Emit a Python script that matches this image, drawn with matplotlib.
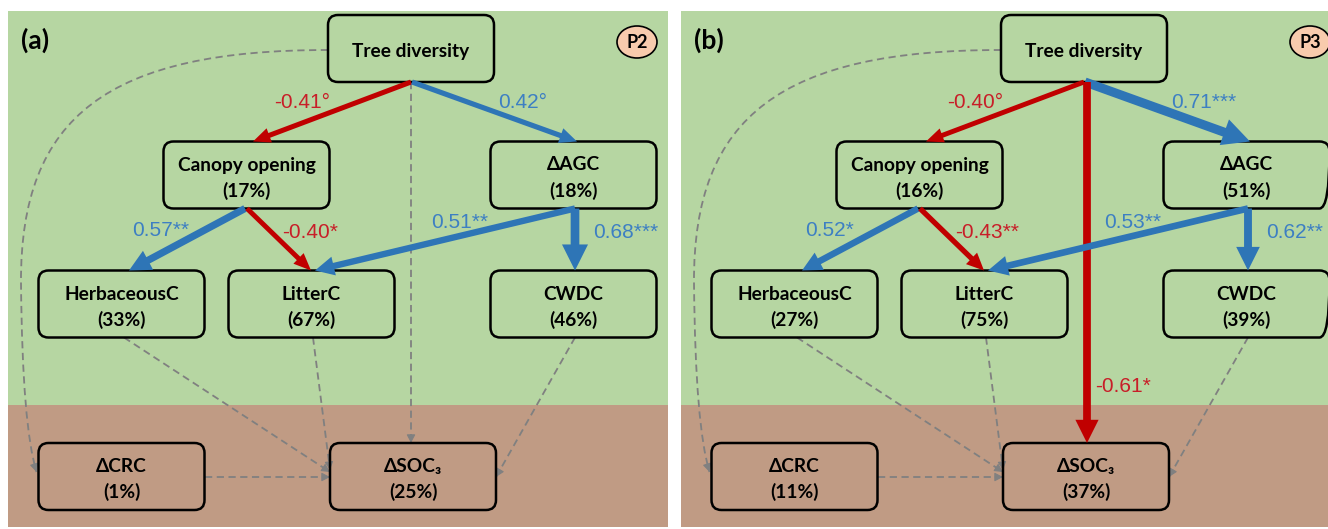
import numpy as np
import matplotlib.pyplot as plt
from matplotlib.patches import FancyBboxPatch, FancyArrowPatch, Rectangle, Ellipse, PathPatch
from matplotlib.path import Path

# ---- values ----
panel_tags = ["(a)", "(b)"]
period_codes = ["P2", "P3"]

nodes = ["Tree diversity", "Canopy opening", "ΔAGC", "HerbaceousC",
         "LitterC", "CWDC", "ΔCRC", "ΔSOC₃"]
# explained variance (%) per node, None = exogenous
r2_p2 = [None, 17, 18, 33, 67, 46, 1, 25]
r2_p3 = [None, 16, 51, 27, 75, 39, 11, 37]

# significant paths: source, target, standardised coefficient, significance mark
paths_p2 = [
    ("Tree diversity", "Canopy opening", -0.41, "°"),
    ("Tree diversity", "ΔAGC", 0.42, "°"),
    ("Canopy opening", "HerbaceousC", 0.57, "**"),
    ("Canopy opening", "LitterC", -0.40, "*"),
    ("ΔAGC", "LitterC", 0.51, "**"),
    ("ΔAGC", "CWDC", 0.68, "***"),
]
paths_p3 = [
    ("Tree diversity", "Canopy opening", -0.40, "°"),
    ("Tree diversity", "ΔAGC", 0.71, "***"),
    ("Tree diversity", "ΔSOC₃", -0.61, "*"),
    ("Canopy opening", "HerbaceousC", 0.52, "*"),
    ("Canopy opening", "LitterC", -0.43, "**"),
    ("ΔAGC", "LitterC", 0.53, "**"),
    ("ΔAGC", "CWDC", 0.62, "**"),
]
# non-significant paths (dashed grey)
ns_p2 = [("Tree diversity", "ΔCRC"), ("Tree diversity", "ΔSOC₃"),
         ("HerbaceousC", "ΔSOC₃"), ("LitterC", "ΔSOC₃"),
         ("CWDC", "ΔSOC₃"), ("ΔCRC", "ΔSOC₃")]
ns_p3 = [("Tree diversity", "ΔCRC"), ("HerbaceousC", "ΔSOC₃"),
         ("LitterC", "ΔSOC₃"), ("CWDC", "ΔSOC₃"), ("ΔCRC", "ΔSOC₃")]

# ---- layout (pixels, panel (a) frame) ----
NODE_XY = {
    "Tree diversity": (411, 48.5),
    "Canopy opening": (246.5, 175),
    "ΔAGC": (573.5, 175),
    "HerbaceousC": (121.5, 304),
    "LitterC": (311.5, 304),
    "CWDC": (573.5, 304),
    "ΔCRC": (121.5, 476.5),
    "ΔSOC₃": (413, 476.5),
}
W, H = 166, 67
W2, H2 = W / 2, H / 2
PANEL_SHIFT = 673
PANEL_LEFT, PANEL_W = 8, 660
PANEL_TOP, SOIL_Y, PANEL_BOTTOM = 11, 405, 527

# anchor offsets from node centres: (start offset, end offset)
SOLID_ANCHOR = {
    ("Tree diversity", "Canopy opening"): ((0, H2), (6.5, -H2)),
    ("Tree diversity", "ΔAGC"): ((1, H2), (3.5, -H2)),
    ("Tree diversity", "ΔSOC₃"): ((3, H2), (1, -H2)),
    ("Canopy opening", "HerbaceousC"): ((-1.5, H2), (7.5, -H2)),
    ("Canopy opening", "LitterC"): ((0.5, H2), (-0.5, -H2)),
    ("ΔAGC", "LitterC"): ((1.5, H2), (3.5, -H2)),
    ("ΔAGC", "CWDC"): ((1.5, H2), (1.5, -H2)),
}
LABEL_POS = {  # left edge, vertical centre
    ("Tree diversity", "Canopy opening"): (274, 102),
    ("Tree diversity", "ΔAGC"): (498, 102),
    ("Tree diversity", "ΔSOC₃"): (422, 387),
    ("Canopy opening", "HerbaceousC"): (132, 231),
    ("Canopy opening", "LitterC"): (282, 232),
    ("ΔAGC", "LitterC"): (431, 222),
    ("ΔAGC", "CWDC"): (593, 233),
}
DASH_ANCHOR = {
    ("Tree diversity", "ΔSOC₃"): ((0, H2), (-2, -H2)),
    ("HerbaceousC", "ΔSOC₃"): ((2.5, H2), (-W2, -4.5)),
    ("LitterC", "ΔSOC₃"): ((1.5, H2), (-W2, -6.5)),
    ("CWDC", "ΔSOC₃"): ((1.5, H2), (W2, 0.5)),
    ("ΔCRC", "ΔSOC₃"): ((W2, 0.5), (-W2, 0.5)),
    ("Tree diversity", "ΔCRC"): ((-W2, 1.5), (-W2 - 2, -4.5)),
}
# control points for the curved Tree diversity -> ΔCRC path
CURVE_CTRL = [(110, 50), (20, 115), (21, 283), (22, 380), (27, 440)]

GREEN = "#B6D6A2"
BROWN = "#C09B84"
BLUE = "#2E75B6"
RED = "#C00000"
BLUE_TXT = "#3D7FC3"
RED_TXT = "#C81E28"
GREY = "#808080"
PEACH = "#F8CBAD"

plt.rcParams["font.family"] = ["Lato", "DejaVu Sans"]

fig = plt.figure(figsize=(13.28, 5.29), dpi=100)
ax = fig.add_axes([0, 0, 1, 1])
ax.set_xlim(0, 1328)
ax.set_ylim(529, 0)
ax.axis("off")


def pt(name, off, x0):
    cx, cy = NODE_XY[name]
    return (cx + off[0] + x0, cy + off[1])


def dashed_head(p_from, p_to):
    p_from, p_to = np.array(p_from), np.array(p_to)
    d = (p_to - p_from) / np.linalg.norm(p_to - p_from)
    ax.add_patch(FancyArrowPatch(p_to - 8 * d, p_to,
                                 arrowstyle="-|>,head_length=5,head_width=2.6",
                                 color=GREY, lw=0.8, mutation_scale=1,
                                 shrinkA=0, shrinkB=0, zorder=3))


def draw_panel(x0, tag, code, r2, paths, ns_paths):
    ax.add_patch(Rectangle((PANEL_LEFT + x0, PANEL_TOP), PANEL_W, SOIL_Y - PANEL_TOP,
                           fc=GREEN, ec="none", zorder=0))
    ax.add_patch(Rectangle((PANEL_LEFT + x0, SOIL_Y), PANEL_W, PANEL_BOTTOM - SOIL_Y,
                           fc=BROWN, ec="none", zorder=0))

    ax.text(21 + x0, 40, tag, fontsize=19, fontweight="bold", ha="left", va="center",
            zorder=6)
    ax.add_patch(Ellipse((637 + x0, 42), 40, 32, fc=PEACH, ec="black", lw=1.2, zorder=5))
    ax.text(637 + x0, 43, code, fontsize=13, fontweight="bold", ha="center",
            va="center", zorder=6)

    # dashed non-significant paths
    for src, dst in ns_paths:
        a_off, b_off = DASH_ANCHOR[(src, dst)]
        p0, p1 = pt(src, a_off, x0), pt(dst, b_off, x0)
        if (src, dst) == ("Tree diversity", "ΔCRC"):
            ctrl = [(x + x0, y) for x, y in CURVE_CTRL]
            verts = [p0] + ctrl + [p1]
            codes = [Path.MOVETO] + [Path.CURVE4] * 6
            prev = ctrl[-1]
        else:
            verts = [p0, p1]
            codes = [Path.MOVETO, Path.LINETO]
            prev = p0
        ax.add_patch(PathPatch(Path(verts, codes), fill=False, ec=GREY, lw=1.3,
                               ls=(0, (4, 2.5)), zorder=2))
        dashed_head(prev, p1)

    # node boxes
    for name, val in zip(nodes, r2):
        cx, cy = NODE_XY[name]
        cx += x0
        ax.add_patch(FancyBboxPatch((cx - W2, cy - H2), W, H,
                                    boxstyle="round,pad=0,rounding_size=10",
                                    fc="none", ec="black", lw=1.8, zorder=3))
        if val is None:
            ax.text(cx, cy + 8, name, fontsize=13.8, fontweight="bold",
                    ha="center", va="baseline", zorder=6)
        else:
            ax.text(cx, cy - 4.5, name, fontsize=13.8, fontweight="bold",
                    ha="center", va="baseline", zorder=6)
            ax.text(cx, cy + 21.5, f"({val}%)", fontsize=13.8, fontweight="bold",
                    ha="center", va="baseline", zorder=6)

    # significant paths, shaft width follows |coefficient|
    for src, dst, coef, sig in paths:
        a_off, b_off = SOLID_ANCHOR[(src, dst)]
        p0, p1 = pt(src, a_off, x0), pt(dst, b_off, x0)
        color = BLUE if coef > 0 else RED
        w = (13.5 * abs(coef) - 0.5) * 0.72  # points
        hw = max(10.5, 3 * w)
        hl = max(12.5, 3 * w)
        ax.add_patch(FancyArrowPatch(
            p0, p1,
            arrowstyle=f"simple,head_length={hl},head_width={hw},tail_width={w}",
            fc=color, ec="none", lw=0, mutation_scale=1,
            shrinkA=0, shrinkB=0, zorder=4))
        lx, ly = LABEL_POS[(src, dst)]
        ax.text(lx + x0, ly, f"{coef:.2f}{sig}", fontsize=15,
                family=["Liberation Sans", "DejaVu Sans"],
                color=BLUE_TXT if coef > 0 else RED_TXT,
                ha="left", va="center", zorder=6)


draw_panel(0, panel_tags[0], period_codes[0], r2_p2, paths_p2, ns_p2)
draw_panel(PANEL_SHIFT, panel_tags[1], period_codes[1], r2_p3, paths_p3, ns_p3)

fig.savefig("out.png", dpi=100, facecolor="white")
